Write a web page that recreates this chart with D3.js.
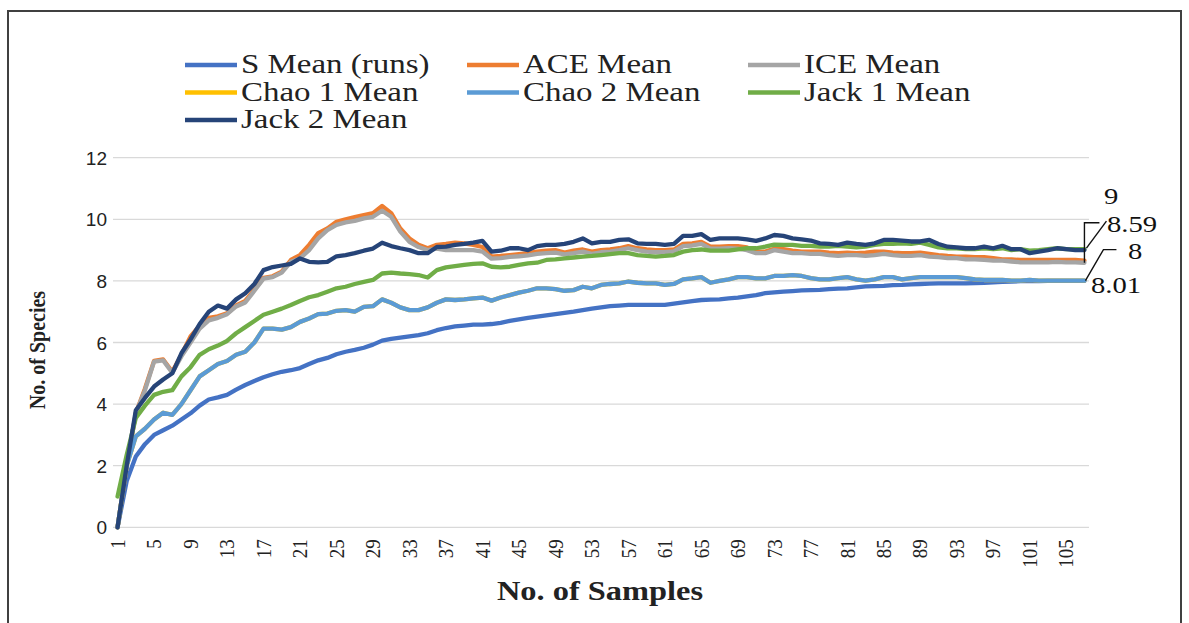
<!DOCTYPE html>
<html>
<head>
<meta charset="utf-8">
<script src="https://cdn.jsdelivr.net/npm/d3@7/dist/d3.min.js"></script>
<style>
  html, body { margin: 0; padding: 0; background: #fff; }
  svg { display: block; }
</style>
</head>
<body>
<svg id="chart" width="1189" height="623"></svg>
<script>
// ---------- DATA ----------
const samples = d3.range(1, 108); // 1..107
const tickLabels = d3.range(1, 108, 4); // 1,5,...,105
const yTicks = [0, 2, 4, 6, 8, 10, 12];

const seriesNames = ["S Mean (runs)", "ACE Mean", "ICE Mean", "Chao 1 Mean", "Chao 2 Mean", "Jack 1 Mean", "Jack 2 Mean"];

const sMean = [0,1.5,2.3,2.7,3.0,3.15,3.3,3.5,3.7,3.95,4.15,4.22,4.3,4.47,4.62,4.75,4.87,4.97,5.05,5.1,
5.17,5.3,5.42,5.5,5.62,5.7,5.76,5.83,5.93,6.06,6.12,6.16,6.2,6.24,6.3,6.4,6.47,6.52,6.55,6.58,
6.58,6.6,6.64,6.7,6.75,6.8,6.84,6.88,6.92,6.96,7.0,7.05,7.1,7.14,7.18,7.2,7.22,7.22,7.22,7.22,
7.22,7.26,7.3,7.34,7.38,7.39,7.4,7.43,7.46,7.5,7.54,7.6,7.63,7.65,7.67,7.69,7.7,7.71,7.73,7.75,
7.76,7.79,7.82,7.83,7.84,7.86,7.87,7.89,7.9,7.91,7.92,7.92,7.92,7.92,7.93,7.94,7.95,7.97,7.98,7.99,
7.99,7.99,8.0,8.0,8.0,8.0,8.0];

const aceMean = [0,2.0,3.7,4.5,5.4,5.45,5.05,5.6,6.2,6.55,6.8,6.85,6.95,7.2,7.35,7.72,8.1,8.15,8.3,8.68,
8.84,9.17,9.55,9.7,9.92,10.0,10.07,10.14,10.2,10.43,10.2,9.7,9.38,9.17,9.06,9.17,9.2,9.24,9.22,9.17,
9.1,8.79,8.81,8.84,8.87,8.9,8.95,8.98,9.0,8.92,8.98,9.02,8.95,9.0,9.02,9.06,9.13,9.06,9.02,9.0,
9.0,9.02,9.2,9.22,9.27,9.11,9.11,9.13,9.13,9.09,8.95,8.95,9.04,9.03,8.98,8.95,8.95,8.95,8.92,8.9,
8.92,8.9,8.92,8.95,8.95,8.92,8.9,8.9,8.92,8.88,8.84,8.81,8.79,8.79,8.77,8.77,8.74,8.7,8.7,8.68,
8.68,8.68,8.68,8.68,8.68,8.68,8.66];

const iceMean = [0,2.0,3.7,4.45,5.38,5.42,5.02,5.55,6.0,6.45,6.72,6.8,6.92,7.17,7.3,7.68,8.07,8.12,8.27,8.62,
8.73,9.0,9.38,9.65,9.82,9.9,9.95,10.03,10.08,10.28,10.08,9.6,9.27,9.1,9.0,9.05,9.0,9.0,9.0,9.0,
8.95,8.72,8.74,8.78,8.8,8.83,8.88,8.9,8.92,8.86,8.9,8.95,8.88,8.93,8.95,9.0,9.06,9.0,8.95,8.93,
8.93,8.96,9.13,9.15,9.2,9.05,9.05,9.06,9.05,9.0,8.9,8.9,9.0,8.95,8.9,8.9,8.88,8.88,8.84,8.81,
8.84,8.84,8.81,8.84,8.88,8.84,8.81,8.81,8.84,8.79,8.77,8.74,8.74,8.7,8.7,8.68,8.66,8.66,8.63,8.6,
8.6,8.6,8.6,8.62,8.6,8.6,8.59];

const chao1Mean = [0,2.0,2.95,3.2,3.5,3.72,3.65,4.0,4.45,4.9,5.1,5.3,5.4,5.6,5.7,6.0,6.45,6.45,6.42,6.5,
6.67,6.78,6.92,6.94,7.03,7.05,7.0,7.16,7.18,7.4,7.29,7.14,7.05,7.05,7.14,7.29,7.4,7.38,7.4,7.43,
7.46,7.36,7.46,7.54,7.62,7.68,7.76,7.76,7.73,7.68,7.7,7.81,7.76,7.87,7.9,7.92,7.98,7.94,7.92,7.92,
7.87,7.9,8.05,8.08,8.12,7.94,8.0,8.05,8.12,8.12,8.08,8.08,8.16,8.16,8.19,8.16,8.09,8.05,8.05,8.09,
8.12,8.05,8.01,8.05,8.12,8.12,8.05,8.09,8.12,8.12,8.12,8.12,8.12,8.09,8.05,8.03,8.03,8.03,8.01,8.01,
8.03,8.01,8.01,8.01,8.01,8.01,8.01];

const chao2Mean = [0,2.0,2.95,3.2,3.5,3.72,3.65,4.0,4.45,4.9,5.1,5.3,5.4,5.6,5.7,6.0,6.45,6.45,6.42,6.5,
6.67,6.78,6.92,6.94,7.03,7.05,7.0,7.16,7.18,7.4,7.29,7.14,7.05,7.05,7.14,7.29,7.4,7.38,7.4,7.43,
7.46,7.36,7.46,7.54,7.62,7.68,7.76,7.76,7.73,7.68,7.7,7.81,7.76,7.87,7.9,7.92,7.98,7.94,7.92,7.92,
7.87,7.9,8.05,8.08,8.12,7.94,8.0,8.05,8.12,8.12,8.08,8.08,8.16,8.16,8.19,8.16,8.09,8.05,8.05,8.09,
8.12,8.05,8.01,8.05,8.12,8.12,8.05,8.09,8.12,8.12,8.12,8.12,8.12,8.09,8.05,8.03,8.03,8.03,8.01,8.01,
8.03,8.01,8.01,8.01,8.01,8.01,8.01];

const jack1Mean = [1.0,2.35,3.55,3.95,4.3,4.4,4.45,4.9,5.2,5.6,5.78,5.9,6.05,6.3,6.5,6.7,6.9,7.0,7.1,7.22,
7.35,7.47,7.54,7.65,7.76,7.81,7.9,7.97,8.03,8.24,8.27,8.24,8.22,8.19,8.11,8.35,8.44,8.48,8.52,8.55,
8.57,8.46,8.44,8.46,8.52,8.57,8.59,8.68,8.7,8.73,8.76,8.79,8.81,8.84,8.87,8.9,8.9,8.84,8.81,8.79,
8.81,8.84,8.95,9.0,9.02,8.98,8.98,8.98,9.02,9.06,9.06,9.11,9.18,9.17,9.17,9.14,9.14,9.11,9.11,9.14,
9.11,9.09,9.11,9.17,9.2,9.2,9.22,9.2,9.24,9.17,9.09,9.06,9.06,9.03,9.03,9.06,9.03,9.06,9.0,9.03,
8.98,9.0,9.03,9.06,9.03,9.03,9.03];

const jack2Mean = [0,2.0,3.8,4.2,4.57,4.8,5.0,5.65,6.1,6.6,7.0,7.2,7.1,7.4,7.6,7.9,8.35,8.45,8.5,8.55,
8.73,8.62,8.6,8.62,8.8,8.84,8.9,8.98,9.05,9.24,9.13,9.06,9.0,8.9,8.9,9.1,9.11,9.17,9.2,9.24,
9.3,8.95,8.98,9.06,9.06,9.0,9.13,9.17,9.17,9.2,9.27,9.38,9.22,9.27,9.27,9.33,9.35,9.22,9.2,9.2,
9.17,9.2,9.46,9.46,9.52,9.33,9.38,9.38,9.38,9.35,9.3,9.38,9.49,9.46,9.38,9.35,9.31,9.22,9.2,9.17,
9.24,9.2,9.17,9.22,9.33,9.33,9.31,9.28,9.28,9.33,9.2,9.11,9.09,9.06,9.06,9.11,9.06,9.14,9.03,9.03,
8.9,8.95,9.0,9.06,9.03,9.0,9.0];

const endLabels = ["9", "8.59", "8", "8.01"];

// ---------- STYLE ----------
const colors = ["#4472C4", "#ED7D31", "#A5A5A5", "#FFC000", "#5B9BD5", "#70AD47", "#264478"];
const seriesValues = [sMean, aceMean, iceMean, chao1Mean, chao2Mean, jack1Mean, jack2Mean];
const serif = "'Liberation Serif', 'Times New Roman', serif";
const sans = "'Liberation Sans', Arial, sans-serif";

const svg = d3.select("#chart");

// border
svg.append("rect").attr("x", 8).attr("y", 11).attr("width", 1173).attr("height", 640)
  .attr("fill", "none").attr("stroke", "#404040").attr("stroke-width", 2);

// scales
const x = d3.scaleBand().domain(samples).range([113, 1089]).paddingInner(0).paddingOuter(0);
const xc = d => x(d) + x.bandwidth() / 2;
const y = d3.scaleLinear().domain([0, 12]).range([527.3, 157.7]);

// gridlines
svg.append("g").selectAll("line").data(yTicks).join("line")
  .attr("x1", 113).attr("x2", 1089)
  .attr("y1", d => y(d)).attr("y2", d => y(d))
  .attr("stroke", "#d9d9d9").attr("stroke-width", 1.3);

// y axis labels
const yAxis = d3.axisLeft(y).tickValues(yTicks).tickSize(0).tickPadding(0);
const yg = svg.append("g").attr("transform", "translate(107,0)").call(yAxis);
yg.select(".domain").remove();
yg.selectAll("text").attr("font-family", sans).attr("font-size", 19).attr("fill", "#222")
  .attr("dy", "0.35em");

// x axis labels
const xAxis = d3.axisBottom(x).tickValues(tickLabels).tickSize(0).tickPadding(0);
const xg = svg.append("g").attr("transform", "translate(0,527.3)").call(xAxis);
xg.select(".domain").remove();
xg.selectAll("text")
  .attr("font-family", serif).attr("font-size", 19).attr("fill", "#222")
  .attr("text-anchor", "end").attr("dy", "0.33em").attr("y", 0)
  .attr("transform", "translate(0,12) scale(1.15,1) rotate(-90)");

// lines
const line = d3.line().x((d, i) => xc(samples[i])).y(d => y(d));
svg.append("g").selectAll("path").data(seriesValues).join("path")
  .attr("d", d => line(d))
  .attr("fill", "none")
  .attr("stroke", (d, i) => colors[i])
  .attr("stroke-width", 4.3)
  .attr("stroke-linejoin", "round")
  .attr("stroke-linecap", "round");

// legend
const legCols = [185, 467, 748];
const legRows = [65, 92.5, 120];
const leg = svg.append("g");
seriesNames.forEach((name, i) => {
  const cx = legCols[i % 3], cy = legRows[Math.floor(i / 3)];
  leg.append("line").attr("x1", cx).attr("x2", cx + 52).attr("y1", cy).attr("y2", cy)
    .attr("stroke", colors[i]).attr("stroke-width", 4.3);
  leg.append("text").attr("transform", `translate(${cx + 56},${cy + 8}) scale(1.22,1)`)
    .attr("font-family", serif).attr("font-size", 27).attr("fill", "#222").text(name);
});

// axis titles
svg.append("text").attr("transform", "translate(600,600) scale(1.2,1)")
  .attr("text-anchor", "middle").attr("font-family", serif).attr("font-weight", "bold")
  .attr("font-size", 27).attr("fill", "#222").text("No. of Samples");
svg.append("text").attr("transform", "translate(45,350) scale(1.2,1) rotate(-90)")
  .attr("text-anchor", "middle").attr("font-family", serif).attr("font-weight", "bold")
  .attr("font-size", 20).attr("fill", "#222").text("No. of Species");

// end-point data labels with leader lines
const last = samples[samples.length - 1];
const lx = xc(last);
const ann = svg.append("g").attr("stroke", "#111").attr("stroke-width", 1.4).attr("fill", "none");
ann.append("polyline").attr("points", `${lx},${y(iceMean[106])} ${lx},${y(iceMean[106]) - 40} ${lx + 15},${y(iceMean[106]) - 40}`);
ann.append("polyline").attr("points", `${lx + 2},${y(jack2Mean[106]) - 2} ${lx + 22},${y(jack2Mean[106]) - 29}`);
ann.append("polyline").attr("points", `${lx + 1},${y(chao2Mean[106])} ${lx + 19},${y(chao2Mean[106]) - 31} ${lx + 32},${y(chao2Mean[106]) - 31}`);

const labelPos = [[1104, 204], [1107, 231.5], [1128, 259], [1091, 293]];
endLabels.forEach((t, i) => {
  svg.append("text").attr("transform", `translate(${labelPos[i][0]},${labelPos[i][1]}) scale(1.22,1)`)
    .attr("font-family", serif).attr("font-size", 23.5).attr("fill", "#111").text(t);
});
</script>
</body>
</html>
